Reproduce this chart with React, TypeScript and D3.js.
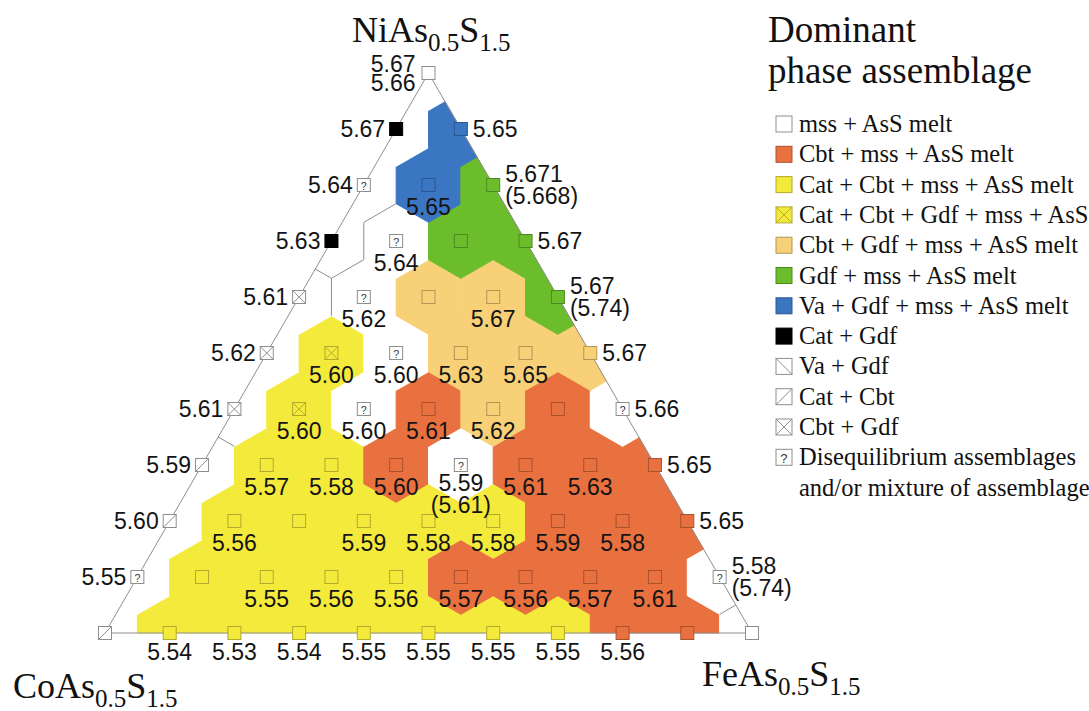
import React from 'react';
import * as d3 from 'd3';

const WIDTH = 1089;
const HEIGHT = 711;

// Dominant phase assemblage at each run, grid rows from the CoAs0.5S1.5–FeAs0.5S1.5 base
// (row 0) up to the NiAs0.5S1.5 apex (row 10); each row runs from the Co side to the Fe side.
const phaseRows: string[][] = [
  ['S', 'Y', 'Y', 'Y', 'Y', 'Y', 'Y', 'Y', 'O', 'O', 'W'],
  ['Q', 'Y', 'Y', 'Y', 'Y', 'O', 'O', 'O', 'O', 'Q'],
  ['S', 'Y', 'Y', 'Y', 'Y', 'Y', 'O', 'O', 'O'],
  ['S', 'Y', 'Y', 'O', 'Q', 'O', 'O', 'O'],
  ['X', 'YX', 'Q', 'O', 'L', 'O', 'Q'],
  ['X', 'YX', 'Q', 'L', 'L', 'L'],
  ['X', 'Q', 'L', 'L', 'G'],
  ['K', 'Q', 'G', 'G'],
  ['Q', 'B', 'G'],
  ['K', 'B'],
  ['W'],
];

// Groups of unshaded fields; neighbouring fields of different groups are split by a thin line.
const zoneRows: string[] = [
  'c.........f',
  'c........e',
  'c........',
  'c...g...',
  'b.d...h',
  'b.d...',
  'bd...',
  'ad..',
  'a..',
  'a.',
  'a',
];

// Measured values: [row, index along row, text lines, placement]
const valueLabels: [number, number, string[], string][] = [
  [10, 0, ['5.67', '5.66'], 'apex'],
  [9, 0, ['5.67'], 'left'],
  [9, 1, ['5.65'], 'right'],
  [8, 0, ['5.64'], 'left'],
  [8, 1, ['5.65'], 'below'],
  [8, 2, ['5.671', '(5.668)'], 'right'],
  [7, 0, ['5.63'], 'left'],
  [7, 1, ['5.64'], 'below'],
  [7, 3, ['5.67'], 'right'],
  [6, 0, ['5.61'], 'left'],
  [6, 1, ['5.62'], 'below'],
  [6, 3, ['5.67'], 'below'],
  [6, 4, ['5.67', '(5.74)'], 'right'],
  [5, 0, ['5.62'], 'left'],
  [5, 1, ['5.60'], 'below'],
  [5, 2, ['5.60'], 'below'],
  [5, 3, ['5.63'], 'below'],
  [5, 4, ['5.65'], 'below'],
  [5, 5, ['5.67'], 'right'],
  [4, 0, ['5.61'], 'left'],
  [4, 1, ['5.60'], 'below'],
  [4, 2, ['5.60'], 'below'],
  [4, 3, ['5.61'], 'below'],
  [4, 4, ['5.62'], 'below'],
  [4, 6, ['5.66'], 'right'],
  [3, 0, ['5.59'], 'left'],
  [3, 1, ['5.57'], 'below'],
  [3, 2, ['5.58'], 'below'],
  [3, 3, ['5.60'], 'below'],
  [3, 4, ['5.59', '(5.61)'], 'below'],
  [3, 5, ['5.61'], 'below'],
  [3, 6, ['5.63'], 'below'],
  [3, 7, ['5.65'], 'right'],
  [2, 0, ['5.60'], 'left'],
  [2, 1, ['5.56'], 'below'],
  [2, 3, ['5.59'], 'below'],
  [2, 4, ['5.58'], 'below'],
  [2, 5, ['5.58'], 'below'],
  [2, 6, ['5.59'], 'below'],
  [2, 7, ['5.58'], 'below'],
  [2, 8, ['5.65'], 'right'],
  [1, 0, ['5.55'], 'left'],
  [1, 2, ['5.55'], 'below'],
  [1, 3, ['5.56'], 'below'],
  [1, 4, ['5.56'], 'below'],
  [1, 5, ['5.57'], 'below'],
  [1, 6, ['5.56'], 'below'],
  [1, 7, ['5.57'], 'below'],
  [1, 8, ['5.61'], 'below'],
  [1, 9, ['5.58', '(5.74)'], 'right'],
  [0, 1, ['5.54'], 'base'],
  [0, 2, ['5.53'], 'base'],
  [0, 3, ['5.54'], 'base'],
  [0, 4, ['5.55'], 'base'],
  [0, 5, ['5.55'], 'base'],
  [0, 6, ['5.55'], 'base'],
  [0, 7, ['5.55'], 'base'],
  [0, 8, ['5.56'], 'base'],
];

const legendItems: [string, string[]][] = [
  ['W', ['mss + AsS melt']],
  ['O', ['Cbt + mss + AsS melt']],
  ['Y', ['Cat + Cbt + mss + AsS melt']],
  ['YX', ['Cat + Cbt + Gdf + mss + AsS']],
  ['L', ['Cbt + Gdf + mss + AsS melt']],
  ['G', ['Gdf + mss + AsS melt']],
  ['B', ['Va + Gdf + mss + AsS melt']],
  ['K', ['Cat + Gdf']],
  ['V', ['Va + Gdf']],
  ['S', ['Cat + Cbt']],
  ['X', ['Cbt + Gdf']],
  ['Q', ['Disequilibrium assemblages', 'and/or mixture of assemblage']],
];

const fieldColor: Record<string, string> = {
  O: '#e9703f',
  Y: '#f4ea3c',
  YX: '#f4ea3c',
  L: '#f7d077',
  G: '#6cbd2c',
  B: '#3b76c3',
};

const SERIF = "'Liberation Serif', 'Times New Roman', Times, serif";
const SANS = "'Liberation Sans', Arial, Helvetica, sans-serif";
const GREY = '#8e8e8e';

// Ternary frame: Fe fraction along the base, Ni fraction upward
const xScale = d3.scaleLinear().domain([0, 10]).range([105, 752]);
const yScale = d3.scaleLinear().domain([0, 10]).range([633, 73]);
const pos = (r: number, j: number): [number, number] => [xScale(j + r / 2), yScale(r)];

const triangle: [number, number][] = [pos(10, 0), pos(0, 10), pos(0, 0)];

function sideOf(a: number[], b: number[], p: number[]) {
  return (b[0] - a[0]) * (p[1] - a[1]) - (b[1] - a[1]) * (p[0] - a[0]);
}

// Sutherland–Hodgman clip of a polygon to the ternary triangle
function clipToTriangle(poly: [number, number][]): [number, number][] {
  const c = [
    (triangle[0][0] + triangle[1][0] + triangle[2][0]) / 3,
    (triangle[0][1] + triangle[1][1] + triangle[2][1]) / 3,
  ];
  let out = poly;
  for (let e = 0; e < 3; e++) {
    const a = triangle[e];
    const b = triangle[(e + 1) % 3];
    const s = Math.sign(sideOf(a, b, c));
    const inside = (p: number[]) => sideOf(a, b, p) * s >= -1e-9;
    const input = out;
    out = [];
    for (let i = 0; i < input.length; i++) {
      const p = input[i];
      const q = input[(i + 1) % input.length];
      const pin = inside(p);
      const qin = inside(q);
      if (pin) out.push(p);
      if (pin !== qin) {
        const sp = sideOf(a, b, p);
        const sq = sideOf(a, b, q);
        const t = sp / (sp - sq);
        out.push([p[0] + t * (q[0] - p[0]), p[1] + t * (q[1] - p[1])]);
      }
    }
  }
  return out;
}

function onTriangleEdge(p: number[]) {
  for (let e = 0; e < 3; e++) {
    const a = triangle[e];
    const b = triangle[(e + 1) % 3];
    const len = Math.hypot(b[0] - a[0], b[1] - a[1]);
    if (Math.abs(sideOf(a, b, p)) / len < 0.6) return true;
  }
  return false;
}

interface GridPoint {
  r: number;
  j: number;
  x: number;
  y: number;
  code: string;
  zone: string;
}

const gridPoints: GridPoint[] = phaseRows.flatMap((row, r) =>
  row.map((code, j) => {
    const [x, y] = pos(r, j);
    return { r, j, x, y, code, zone: zoneRows[r][j] };
  })
);

function Marker({ x, y, size, code }: { x: number; y: number; size: number; code: string }) {
  const h = size / 2;
  const base = fieldColor[code];
  let fill = '#ffffff';
  let stroke = GREY;
  if (base) {
    fill = base;
    stroke = d3.color(base)!.darker(0.9).formatHex();
  } else if (code === 'K') {
    fill = '#000000';
    stroke = '#000000';
  }
  const lineStroke = base ? stroke : GREY;
  return (
    <g transform={`translate(${x},${y})`}>
      <rect x={-h} y={-h} width={size} height={size} fill={fill} stroke={stroke} strokeWidth={1} />
      {(code === 'X' || code === 'YX') && (
        <>
          <line x1={-h} y1={-h} x2={h} y2={h} stroke={lineStroke} strokeWidth={1} />
          <line x1={-h} y1={h} x2={h} y2={-h} stroke={lineStroke} strokeWidth={1} />
        </>
      )}
      {code === 'S' && <line x1={-h} y1={h} x2={h} y2={-h} stroke={GREY} strokeWidth={1} />}
      {code === 'V' && <line x1={-h} y1={-h} x2={h} y2={h} stroke={GREY} strokeWidth={1} />}
      {code === 'Q' && (
        <text
          x={0}
          y={size * 0.36}
          textAnchor="middle"
          fontFamily={SANS}
          fontSize={size * 0.82}
          fill="#333"
        >
          ?
        </text>
      )}
    </g>
  );
}

function Formula({ x, y, metal }: { x: number; y: number; metal: string }) {
  return (
    <text x={x} y={y} fontFamily={SERIF} fontSize={36} fill="#111">
      <tspan>{metal}As</tspan>
      <tspan dy={9} fontSize={25}>0.5</tspan>
      <tspan dy={-9}>S</tspan>
      <tspan dy={9} fontSize={25}>1.5</tspan>
    </text>
  );
}

export default function App() {
  const delaunay = d3.Delaunay.from(gridPoints, (d) => d.x, (d) => d.y);
  const voronoi = delaunay.voronoi([0, 0, WIDTH, HEIGHT]);

  const cells = gridPoints.map((p, i) => {
    const raw = (voronoi.cellPolygon(i) || []) as [number, number][];
    const poly = clipToTriangle(raw.slice(0, raw.length - 1));
    return { p, i, poly };
  });

  // Boundaries between unshaded fields of different groups
  const splitLines: [number, number, number, number][] = [];
  cells.forEach(({ p, i, poly }) => {
    if (fieldColor[p.code]) return;
    for (let e = 0; e < poly.length; e++) {
      const a = poly[e];
      const b = poly[(e + 1) % poly.length];
      const m = [(a[0] + b[0]) / 2, (a[1] + b[1]) / 2];
      if (onTriangleEdge(m)) continue;
      const di = Math.hypot(m[0] - p.x, m[1] - p.y);
      for (let k = i + 1; k < gridPoints.length; k++) {
        const q = gridPoints[k];
        if (Math.abs(Math.hypot(m[0] - q.x, m[1] - q.y) - di) < 0.5) {
          if (!fieldColor[q.code] && q.zone !== p.zone) splitLines.push([a[0], a[1], b[0], b[1]]);
        }
      }
    }
  });

  const labelNodes = valueLabels.map(([r, j, lines, side], idx) => {
    const [x, y] = pos(r, j);
    let anchor: 'start' | 'middle' | 'end' = 'middle';
    let tx = x;
    let ys: number[] = [];
    if (side === 'left') {
      anchor = 'end';
      tx = x - 11;
      ys = [y + 8];
    } else if (side === 'apex') {
      anchor = 'end';
      tx = x - 13;
      ys = [y - 1, y + 18];
    } else if (side === 'right') {
      anchor = 'start';
      tx = x + 12;
      ys = lines.length > 1 ? [y - 3, y + 19] : [y + 8];
    } else if (side === 'base') {
      ys = [y + 27];
    } else {
      ys = lines.length > 1 ? [y + 26, y + 48] : [y + 30];
    }
    return (
      <text key={`lab${idx}`} textAnchor={anchor} fontFamily={SANS} fontSize={23} fill="#141414">
        {lines.map((t, li) => (
          <tspan key={li} x={tx} y={ys[li]}>
            {t}
          </tspan>
        ))}
      </text>
    );
  });

  const legendY = d3.scaleLinear().domain([0, 1]).range([124, 154.3]);

  return (
    <svg
      width={WIDTH}
      height={HEIGHT}
      viewBox={`0 0 ${WIDTH} ${HEIGHT}`}
      style={{ position: 'absolute', left: 0, top: 0, background: '#fff' }}
    >
      <rect x={0} y={0} width={WIDTH} height={HEIGHT} fill="#fff" />
      <g>
        {cells.map(({ p, i, poly }) => {
          const c = fieldColor[p.code] || '#ffffff';
          return (
            <path
              key={`cell${i}`}
              d={`M${poly.map((q) => q.join(',')).join('L')}Z`}
              fill={c}
              stroke={c}
              strokeWidth={1}
              strokeLinejoin="round"
            />
          );
        })}
      </g>
      <g>
        {splitLines.map((s, i) => (
          <line key={`sp${i}`} x1={s[0]} y1={s[1]} x2={s[2]} y2={s[3]} stroke={GREY} strokeWidth={1} />
        ))}
      </g>
      <path
        d={`M${triangle.map((q) => q.join(',')).join('L')}Z`}
        fill="none"
        stroke={GREY}
        strokeWidth={1}
      />
      <g>
        {gridPoints.map((p, i) => (
          <Marker key={`m${i}`} x={p.x} y={p.y} size={13} code={p.code} />
        ))}
      </g>
      <g>{labelNodes}</g>

      <Formula x={352} y={42} metal="Ni" />
      <Formula x={13} y={698} metal="Co" />
      <Formula x={702} y={686} metal="Fe" />

      <g>
        <text x={768} y={42} fontFamily={SERIF} fontSize={37} fill="#111">
          Dominant
        </text>
        <text x={768} y={83} fontFamily={SERIF} fontSize={37} fill="#111">
          phase assemblage
        </text>
        {legendItems.map(([code, lines], i) => {
          const cy = legendY(i);
          return (
            <g key={`lg${i}`}>
              <Marker x={784} y={cy} size={16} code={code} />
              {lines.map((t, li) => (
                <text
                  key={li}
                  x={799}
                  y={cy + 8 + li * 30.3}
                  fontFamily={SERIF}
                  fontSize={24.5}
                  fill="#111"
                >
                  {t}
                </text>
              ))}
            </g>
          );
        })}
      </g>
    </svg>
  );
}
